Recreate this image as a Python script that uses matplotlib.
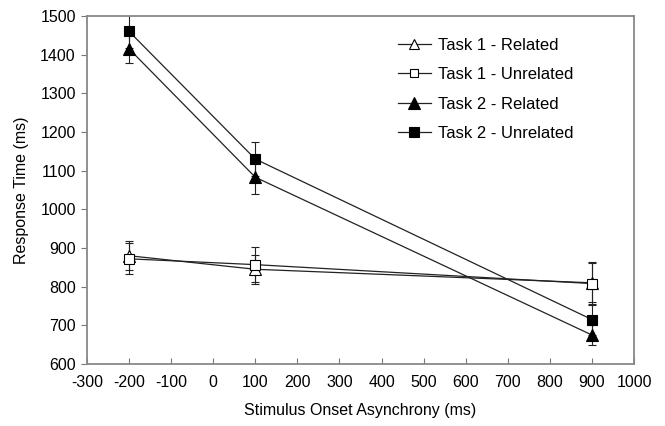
import matplotlib
matplotlib.use("Agg")
import matplotlib.pyplot as plt
from matplotlib.lines import Line2D

soa = [-200, 100, 900]
t1_rel = [880, 845, 810]
t1_rel_err = [38, 38, 50]
t1_unrel = [872, 857, 808]
t1_unrel_err = [40, 45, 55]
t2_rel = [1415, 1083, 675]
t2_rel_err = [37, 43, 25]
t2_unrel = [1460, 1130, 715]
t2_unrel_err = [42, 45, 40]
labels = ['Task 1 - Related', 'Task 1 - Unrelated', 'Task 2 - Related', 'Task 2 - Unrelated']

plt.rcParams['font.family'] = ['Liberation Sans', 'DejaVu Sans']
plt.rcParams['axes.unicode_minus'] = False
fig = plt.figure(figsize=(6.65, 4.26), dpi=100)
ax = fig.add_axes([0.1308, 0.1455, 0.8226, 0.817])

series = [
    (t1_rel, t1_rel_err, '^', 'white', 8.5),
    (t1_unrel, t1_unrel_err, 's', 'white', 7),
    (t2_rel, t2_rel_err, '^', 'black', 9),
    (t2_unrel, t2_unrel_err, 's', 'black', 7.5),
]
handles = []
for (vals, err, m, fc, ms), lab in zip(series, labels):
    ax.errorbar(soa, vals, yerr=err, marker=m, mfc=fc, mec='black', mew=0.8, color='#222222',
                lw=0.9, capsize=3, elinewidth=0.8, capthick=0.8, markersize=ms)
    handles.append(Line2D([], [], color='#222222', lw=0.9, marker=m, mfc=fc, mec='black',
                          mew=0.8, markersize=ms - 1, label=lab))

ax.set_xlim(-300, 1000)
ax.set_ylim(600, 1500)
ax.set_xticks(range(-300, 1001, 100))
ax.set_yticks(range(600, 1501, 100))
ax.tick_params(axis='x', direction='in', length=4, color='#777777', labelsize=11.5, pad=8)
ax.tick_params(axis='y', direction='out', length=4, color='#777777', labelsize=11.5, pad=4)
for s in ax.spines.values():
    s.set_color('#888888')
    s.set_linewidth(1.3)
ax.set_xlabel('Stimulus Onset Asynchrony (ms)', fontsize=11.5, labelpad=9)
ax.set_ylabel('Response Time (ms)', fontsize=11.5, labelpad=8)
fig.legend(handles=handles, loc='upper left', bbox_to_anchor=(0.598, 0.911), frameon=False,
           fontsize=12, handlelength=2.0, handletextpad=0.4, labelspacing=0.86,
           borderpad=0, borderaxespad=0)
fig.savefig('out.png', dpi=100)
